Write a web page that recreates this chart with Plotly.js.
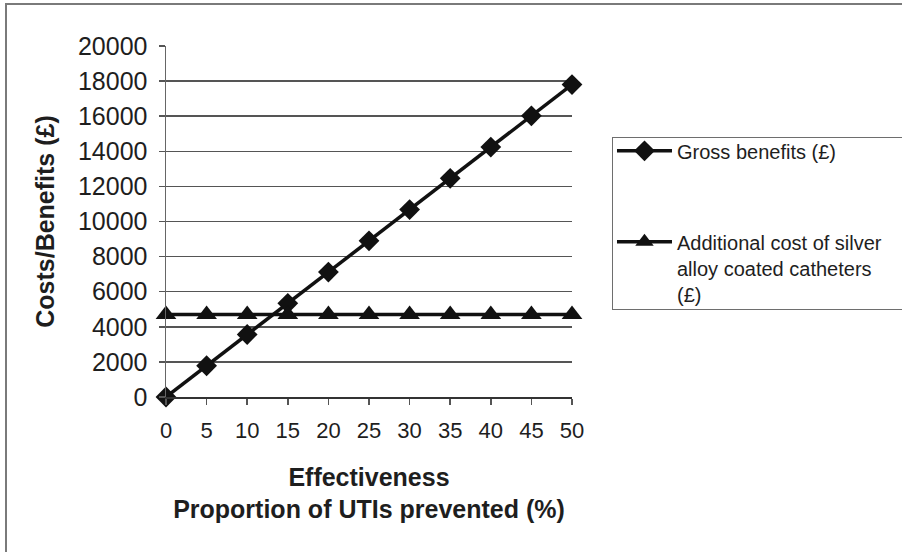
<!DOCTYPE html>
<html>
<head>
<meta charset="utf-8">
<script src="https://cdn.plot.ly/plotly-3.0.1.min.js"></script>
<style>
  html, body { margin: 0; padding: 0; background: #ffffff; }
  #wrap { position: relative; width: 902px; height: 552px; overflow: hidden; }
  #chart { position: absolute; left: 0; top: 0; width: 902px; height: 552px; }
  #frame { position: absolute; left: 5px; top: 3px; width: 920px; height: 600px;
           border-left: 2px solid #7a7a7a; border-top: 2px solid #7a7a7a; pointer-events: none; }
  #legendbox { position: absolute; left: 612px; top: 137px; width: 400px; height: 171px;
           border: 1.5px solid #6e6e6e; pointer-events: none; }
</style>
</head>
<body>
<div id="wrap">
  <div id="chart"></div>
  <div id="frame"></div>
  <div id="legendbox"></div>
</div>
<script>
// Effectiveness: proportion of UTIs prevented (%)
const effectiveness = [0, 5, 10, 15, 20, 25, 30, 35, 40, 45, 50];
// Gross benefits (£)
const grossBenefits = [0, 1780, 3560, 5340, 7120, 8900, 10680, 12460, 14240, 16020, 17800];
// Additional cost of silver alloy coated catheters (£)
const additionalCost = [4700, 4700, 4700, 4700, 4700, 4700, 4700, 4700, 4700, 4700, 4700];
const yTicks = [0, 2000, 4000, 6000, 8000, 10000, 12000, 14000, 16000, 18000, 20000];

const FONT = '"Liberation Sans", Arial, sans-serif';
const INK = '#1e1e1e';

const traces = [
  {
    x: effectiveness, y: grossBenefits, type: 'scatter', mode: 'lines+markers',
    name: 'Gross benefits (£)', legendgroup: 'a',
    line: { color: '#111111', width: 3.5 },
    marker: { symbol: 'diamond', size: 16, color: '#111111' },
    cliponaxis: false
  },
  {
    x: effectiveness, y: additionalCost, type: 'scatter', mode: 'lines+markers',
    name: 'Additional cost of silver<br>alloy coated catheters<br>(£)', legendgroup: 'b',
    line: { color: '#111111', width: 3.5 },
    marker: { symbol: 'triangle-up', size: 18, color: '#111111' },
    cliponaxis: false
  }
];

const layout = {
  width: 902, height: 552,
  paper_bgcolor: '#ffffff', plot_bgcolor: '#ffffff',
  margin: { l: 166, r: 330, t: 46, b: 155, autoexpand: false },
  font: { family: FONT, color: INK },
  showlegend: true,
  legend: {
    x: 1.0985, y: 0.757, xanchor: 'left', yanchor: 'top',
    bgcolor: 'rgba(0,0,0,0)', borderwidth: 0,
    font: { family: FONT, size: 20, color: INK },
    traceorder: 'grouped', tracegroupgap: 62, itemwidth: 55, valign: 'top'
  },
  xaxis: {
    range: [0, 50], tickvals: effectiveness, ticktext: effectiveness.map(String),
    ticks: 'outside', ticklen: 6, tickcolor: '#555555', tickwidth: 1.5,
    showline: true, linecolor: '#333333', linewidth: 2,
    showgrid: false, zeroline: false,
    tickfont: { family: FONT, size: 22, color: INK },
    ticklabelstandoff: 7,
    title: {
      text: '<b>Effectiveness</b><br><b>Proportion of UTIs prevented (%)</b>',
      font: { family: FONT, size: 25, color: INK }, standoff: 26
    }
  },
  yaxis: {
    range: [0, 20000], tickvals: yTicks, ticktext: yTicks.map(String),
    ticks: 'outside', ticklen: 6, tickcolor: '#555555', tickwidth: 1.5,
    showline: true, linecolor: '#666666', linewidth: 1.5,
    showgrid: true, gridcolor: '#555555', gridwidth: 1.5, zeroline: false,
    tickfont: { family: FONT, size: 25, color: INK },
    ticklabelstandoff: 6,
    title: {
      text: '<b>Costs/Benefits (£)</b>',
      font: { family: FONT, size: 25, color: INK }, standoff: 16
    }
  }
};

Plotly.newPlot('chart', traces, layout, { displayModeBar: false, staticPlot: true });
</script>
</body>
</html>
